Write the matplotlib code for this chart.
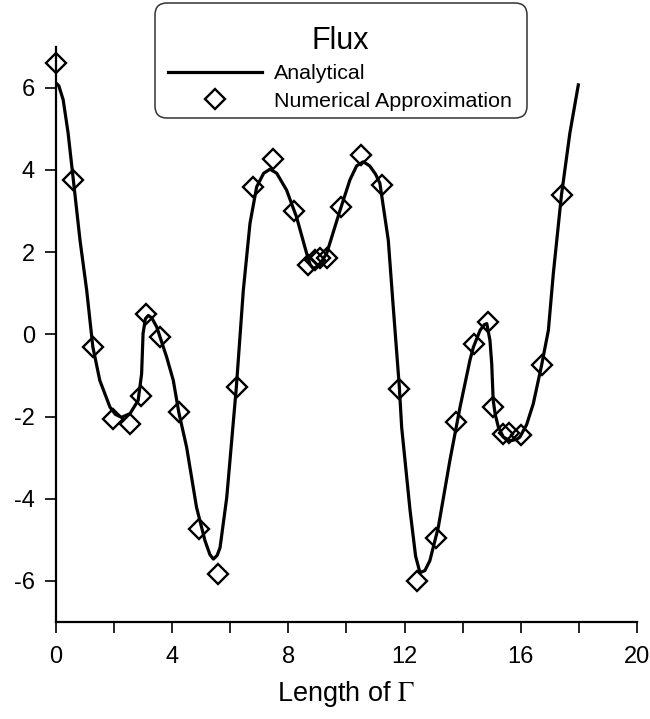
import numpy as np
import matplotlib.pyplot as plt
from matplotlib.patches import FancyBboxPatch
from matplotlib.transforms import IdentityTransform

# ============================================
# Данные
# ============================================
# Аналитическое решение (точки кривой)
x_analytical = [0.0, 0.1, 0.25, 0.42, 0.6, 0.83, 1.06, 1.27, 1.51, 1.86, 2.05, 2.26,
                2.55, 2.83, 2.95, 3.0, 3.08, 3.18, 3.3, 3.47, 3.81, 4.04, 4.23, 4.5,
                4.84, 5.13, 5.3, 5.42, 5.55, 5.65, 5.88, 6.05, 6.21, 6.45, 6.68, 6.91,
                7.15, 7.37, 7.6, 7.94, 8.28, 8.63, 8.75, 8.86, 9.0, 9.15, 9.32, 9.78,
                10.12, 10.35, 10.58, 10.8, 11.0, 11.15, 11.44, 11.61, 11.82, 11.9, 12.19,
                12.38, 12.53, 12.7, 12.87, 13.16, 13.56, 13.91, 14.25, 14.37, 14.6, 14.75,
                14.83, 14.94, 15.0, 15.05, 15.12, 15.23, 15.4, 15.63, 15.85, 15.97, 16.2,
                16.43, 16.72, 16.95, 17.12, 17.4, 17.69, 17.98]
y_analytical = [6.12, 6.05, 5.71, 4.9, 3.76, 2.29, 1.07, -0.3, -1.12, -1.77, -1.95, -2.02,
                -1.93, -1.61, -0.96, 0.02, 0.38, 0.46, 0.4, 0.18, -0.55, -1.12, -1.9, -2.75,
                -4.21, -5.02, -5.36, -5.47, -5.38, -5.19, -3.97, -2.59, -1.29, 1.07, 2.7, 3.59,
                3.92, 4.02, 3.92, 3.51, 2.86, 1.97, 1.7, 1.6, 1.65, 1.78, 1.97, 3.02,
                3.76, 4.1, 4.2, 4.1, 3.9, 3.68, 2.29, 0.67, -1.28, -2.26, -4.29,
                -5.4, -5.8, -5.75, -5.51, -4.7, -3.07, -1.77, -0.63, -0.31, 0.1, 0.24,
                0.26, -0.15, -0.72, -1.6, -1.95, -2.26, -2.5, -2.59, -2.56, -2.5, -2.2,
                -1.69, -0.74, 0.1, 1.48, 3.39, 4.9, 6.07]

# Численное приближение
x_numerical = [0.0, 0.59, 1.27, 1.97, 2.55, 2.93, 3.11, 3.58, 4.24, 4.93, 5.59, 6.22,
               6.8, 7.48, 8.19, 8.69, 8.92, 9.09, 9.34, 9.81, 10.5, 11.21, 11.82, 12.42,
               13.08, 13.76, 14.39, 14.86, 15.05, 15.4, 15.6, 16.02, 16.72, 17.43]
y_numerical = [6.6, 3.76, -0.32, -2.06, -2.18, -1.51, 0.49, -0.07, -1.9, -4.74, -5.84, -1.29,
               3.59, 4.26, 2.99, 1.68, 1.82, 1.87, 1.85, 3.11, 4.37, 3.63, -1.32, -6.0,
               -4.95, -2.14, -0.23, 0.3, -1.78, -2.43, -2.4, -2.44, -0.74, 3.4]

x_ticks = [0, 2, 4, 6, 8, 10, 12, 14, 16, 18, 20]
x_labels = ['0', '', '4', '', '8', '', '12', '', '16', '', '20']
y_ticks = [-6, -4, -2, 0, 2, 4, 6]

# ============================================
# Построение
# ============================================
plt.rcParams['font.family'] = ['Liberation Sans', 'DejaVu Sans']
plt.rcParams['mathtext.fontset'] = 'stix'
plt.rcParams['axes.unicode_minus'] = False

W, H = 650, 719
fig = plt.figure(figsize=(W / 100, H / 100), dpi=100)
ax = fig.add_axes([0.086, 0.135, 0.894, 0.80])

ax.plot(x_analytical, y_analytical, color='black', lw=2.3,
        solid_joinstyle='round', label='Analytical')
ax.plot(x_numerical, y_numerical, linestyle='none', marker='D', ms=10,
        mfc='none', mec='black', mew=1.7, label='Numerical Approximation',
        clip_on=False)

ax.set_xlim(0, 20)
ax.set_ylim(-7, 7)
ax.set_xticks(x_ticks)
ax.set_xticklabels(x_labels)
ax.set_yticks(y_ticks)
ax.tick_params(direction='out', length=8, width=1.2, labelsize=17)
ax.tick_params(axis='x', pad=9)
ax.tick_params(axis='y', pad=7)

for side in ['top', 'right']:
    ax.spines[side].set_visible(False)
for side in ['left', 'bottom']:
    ax.spines[side].set_linewidth(1.6)

ax.set_xlabel(r'Length of $\Gamma$', fontsize=19.5, labelpad=8)

# Легенда: содержимое без рамки, рамка со скруглёнными углами отдельно
leg = fig.legend(loc='upper left', bbox_to_anchor=(155.5 / W, 1 - 13 / H),
                 title='Flux', title_fontsize=22, fontsize=15.4,
                 handlelength=4.4, handletextpad=0.53, labelspacing=0.39,
                 borderpad=0.6, borderaxespad=0, frameon=False)
leg.set_zorder(6)

frame = FancyBboxPatch((155, H - 118), 372, 115,
                       boxstyle='round,pad=0,rounding_size=12',
                       facecolor='white', edgecolor='#333333', lw=1.1,
                       transform=IdentityTransform(), zorder=4)
fig.add_artist(frame)

fig.savefig('out.png', dpi=100)
plt.close(fig)
